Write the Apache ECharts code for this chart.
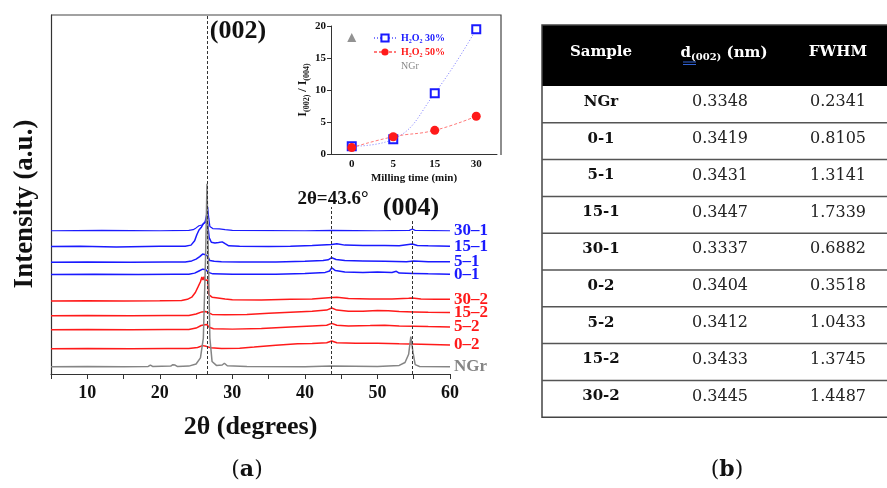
<!DOCTYPE html>
<html>
<head>
<meta charset="utf-8">
<script src="https://cdn.jsdelivr.net/npm/echarts/dist/echarts.min.js"></script>
<style>
html, body { margin: 0; padding: 0; background: #fff; }
#chart { width: 887px; height: 488px; }
</style>
</head>
<body>
<div id="chart"></div>
<script>
// XRD patterns: [2theta, intensity above the trace's own baseline]
var trace30_1 = [[5,0],[12,0.1],[20,0],[24,0.1],[24.6,0.3],[25,0.8],[25.4,1.4],[25.8,1.6],[26.2,2.2],[26.45,4.5],[26.6,6.6],[26.75,3.5],[26.9,1.2],[27.3,0.6],[28.2,0.5],[29,0.3],[30,0.1],[40,0],[43.7,0.1],[50,0],[54.4,0.1],[54.8,0.5],[55.2,0.1],[60,0]];
var trace15_1 = [[5,0],[9,0.1],[14,-0.1],[20,0.1],[23.5,0.1],[24.3,0.4],[24.8,1.6],[25.1,3.3],[25.4,4.6],[25.7,5.3],[26.0,6.4],[26.3,6.9],[26.6,6.3],[26.8,2.5],[27.1,1.2],[27.6,1.0],[28.1,1.1],[28.6,1.3],[29.0,0.8],[29.5,0.2],[31,0.1],[35,0],[38,0.1],[41,0.3],[43.7,0.6],[44.4,0.8],[45.5,0.4],[48,0.3],[51,0.3],[53,0.2],[54.8,0.7],[55.5,0.3],[57,0.2],[60,0.1]];
var trace5_1 = [[5,0],[10,0.1],[16,0],[21,0.1],[23.5,0.1],[24.4,0.4],[25.0,0.9],[25.5,1.6],[25.9,2.3],[26.3,2.1],[26.6,1.7],[26.9,0.5],[27.5,0.3],[28.5,0.2],[31,0.1],[36,0.1],[40,0.3],[42.5,0.5],[43.2,0.7],[43.7,1.3],[44.3,0.8],[45.5,0.5],[48,0.4],[51,0.3],[54,0.2],[55,0.4],[57,0.2],[60,0.2]];
var trace0_1 = [[5,0],[11,0.1],[17,0],[22,0.1],[24,0.1],[24.8,0.4],[25.4,1.0],[25.9,1.5],[26.3,1.4],[26.7,0.6],[27.3,0.2],[30,0.1],[36,0.1],[40,0.3],[42.8,0.6],[43.4,1.0],[43.7,1.9],[44.2,1.1],[45.5,0.7],[48,0.6],[50,0.7],[52,0.6],[52.6,0.9],[53,0.4],[55,0.3],[57,0.2],[60,0.1]];
var trace30_2 = [[5,0],[10,0.1],[15,0],[20,0.1],[23,0.2],[23.8,0.5],[24.4,1.1],[24.9,2.4],[25.3,4.1],[25.6,5.4],[25.8,6.7],[25.95,5.9],[26.1,6.8],[26.25,5.8],[26.45,6.2],[26.6,5.9],[26.75,1.8],[27.2,1.1],[28,0.9],[29,0.6],[30,0.4],[34,0.3],[38,0.5],[41,0.6],[43.7,1.0],[44.4,1.1],[46,0.7],[49,0.6],[52,0.6],[54.3,0.8],[54.8,0.9],[56,0.6],[58,0.5],[60,0.5]];
var trace15_2 = [[5,0],[10,0.1],[16,0],[21,0.1],[24,0.1],[25,0.5],[25.8,1.1],[26.3,1.2],[26.7,0.9],[27.2,0.4],[29,0.3],[32,0.4],[35,0.7],[38,1.0],[41,1.3],[43,1.6],[43.7,2.2],[44.4,1.6],[46,1.3],[48,1.3],[50,1.5],[51.5,1.4],[53,1.2],[55,1.1],[57,1.0],[60,0.9]];
var trace5_2 = [[5,0],[10,0.1],[16,0],[21,0.1],[24,0.1],[25,0.5],[25.7,1.2],[26.2,1.4],[26.5,1.5],[26.65,2.0],[26.8,0.7],[27.4,0.3],[30,0.2],[34,0.4],[38,0.8],[41,1.1],[43,1.3],[43.7,1.8],[44.4,1.3],[46,1.1],[49,1.2],[51,1.3],[53,1.1],[55,1.0],[57,0.9],[60,0.8]];
var trace0_2 = [[5,0],[10,0.1],[16,0],[21,0.1],[24,0.1],[25.2,0.4],[25.9,0.9],[26.4,0.7],[27,0.3],[28.5,0.1],[31,0.2],[33,0.5],[36,1.0],[39,1.4],[41,1.5],[43,1.7],[43.7,2.2],[44.4,1.7],[47,1.6],[50,1.6],[53,1.4],[56,1.3],[60,1.1]];
var traceNGr = [[5,0],[10,0.1],[15,0],[18.4,0.1],[18.7,0.5],[19.0,0.1],[21.5,0.2],[21.8,0.6],[22.1,0.5],[22.4,0.1],[24,0.2],[25,0.8],[25.6,2.5],[26.0,8],[26.3,30],[26.5,51],[26.7,30],[26.9,8],[27.2,1.5],[27.8,0.4],[28.6,0.5],[28.9,1.0],[29.3,0.3],[32,0.1],[40,0],[43.6,0.2],[50,0.1],[53,0.4],[53.8,1.2],[54.3,3.5],[54.6,8.4],[54.9,4],[55.2,0.6],[55.8,0.1],[60,0]];

var traceNames = ['30–1', '15–1', '5–1', '0–1', '30–2', '15–2', '5–2', '0–2', 'NGr'];
var traceOffsets = [39.9, 35.5, 31.1, 27.7, 20.3, 16.2, 12.3, 7.0, 2.0];
var traces = [trace30_1, trace15_1, trace5_1, trace0_1, trace30_2, trace15_2, trace5_2, trace0_2, traceNGr];

// reference lines [2theta, top]
var refLines = [[26.6, 100], [43.6, 46.5], [54.8, 42.9]];

// inset: I(002)/I(004) vs milling time
var millingTime = ['0', '5', '15', '30'];
var ratio30 = [1.2, 2.3, 9.5, 19.5];
var ratio50 = [1.0, 2.7, 3.7, 5.9];
var ratioNGr = 18.2;

// table (b)
var sampleNames = ['NGr', '0-1', '5-1', '15-1', '30-1', '0-2', '5-2', '15-2', '30-2'];
var d002 = ['0.3348', '0.3419', '0.3431', '0.3447', '0.3337', '0.3404', '0.3412', '0.3433', '0.3445'];
var fwhm = ['0.2341', '0.8105', '1.3141', '1.7339', '0.6882', '0.3518', '1.0433', '1.3745', '1.4487'];

var BLUE = '#1a1aff', RED = '#ff1a1a', GRAY = '#858585';
var SERIF = '"Liberation Serif", "Times New Roman", serif';
var WIDE = '"DejaVu Serif", serif';
var traceColors = [BLUE, BLUE, BLUE, BLUE, RED, RED, RED, RED, GRAY];

var dom = document.getElementById('chart');
var myChart = echarts.init(dom);

var series = traces.map(function (t, i) {
    var s = {
        name: traceNames[i],
        type: 'line',
        xAxisIndex: 0,
        yAxisIndex: 0,
        symbol: 'none',
        silent: true,
        animation: false,
        z: i === 8 ? 3 : 2,
        data: t.map(function (p) { return [p[0], p[1] + traceOffsets[i]]; }),
        lineStyle: { color: traceColors[i], width: i === 0 ? 1.2 : 1.5 },
        itemStyle: { color: traceColors[i] },
        endLabel: {
            show: true,
            formatter: traceNames[i],
            color: traceColors[i],
            fontFamily: SERIF,
            fontWeight: 'bold',
            fontSize: 17,
            distance: 4
        }
    };
    if (i === 8) {
        s.markLine = {
            silent: true,
            symbol: 'none',
            animation: false,
            label: { show: false },
            lineStyle: { type: [3, 2], color: '#333', width: 1 },
            data: refLines.map(function (r) {
                return [{ coord: [r[0], 0] }, { coord: [r[0], r[1]] }];
            })
        };
    }
    return s;
});

series.push({
    name: 'H₂O₂ 30%',
    type: 'line',
    xAxisIndex: 1,
    yAxisIndex: 1,
    smooth: 0.45,
    symbol: 'emptyRect',
    symbolSize: 8,
    animation: false,
    data: ratio30,
    lineStyle: { color: '#7a7aff', width: 1, type: [1, 2] },
    itemStyle: { color: BLUE, borderWidth: 1.5 }
});
series.push({
    name: 'H₂O₂ 50%',
    type: 'line',
    xAxisIndex: 1,
    yAxisIndex: 1,
    smooth: 0.45,
    symbol: 'circle',
    symbolSize: 9,
    animation: false,
    data: ratio50,
    lineStyle: { color: '#ff7a7a', width: 1, type: [3, 2] },
    itemStyle: { color: RED }
});
series.push({
    name: 'NGr',
    type: 'scatter',
    xAxisIndex: 1,
    yAxisIndex: 1,
    symbol: 'triangle',
    symbolSize: 9,
    animation: false,
    data: [[0, ratioNGr]],
    itemStyle: { color: '#777' }
});

// table graphic
var tLeft = 542, tRight = 887, tTop = 25, headBottom = 86, rowH = 36.8;
var colX = [601, 720, 838];
var table = [];
table.push({ type: 'rect', shape: { x: tLeft, y: tTop, width: tRight - tLeft, height: headBottom - tTop }, style: { fill: '#000' } });
table.push({ type: 'rect', shape: { x: tLeft, y: tTop, width: tRight - tLeft + 5, height: headBottom - tTop + rowH * sampleNames.length }, style: { fill: null, stroke: '#444', lineWidth: 1.5 } });
for (var k = 1; k < sampleNames.length; k++) {
    var ly = headBottom + rowH * k;
    table.push({ type: 'line', shape: { x1: tLeft, y1: ly, x2: tRight, y2: ly }, style: { stroke: '#555', lineWidth: 1.5 } });
}
var headStyle = { fill: '#fff', font: 'bold 15px ' + WIDE, align: 'center', verticalAlign: 'middle' };
table.push({ type: 'text', x: colX[0], y: 52, style: Object.assign({ text: 'Sample' }, headStyle) });
table.push({
    type: 'text', x: colX[1] + 4, y: 52,
    style: {
        text: '{b|d}{s|(002)}{b| (nm)}',
        align: 'center', verticalAlign: 'middle',
        rich: {
            b: { fill: '#fff', color: '#fff', fontSize: 15, fontWeight: 'bold', fontFamily: WIDE, lineHeight: 18, verticalAlign: 'bottom' },
            s: { fill: '#fff', color: '#fff', fontSize: 10, fontWeight: 'bold', fontFamily: WIDE, lineHeight: 18, verticalAlign: 'bottom', padding: [0, 0, -1, 0] }
        }
    }
});
table.push({ type: 'line', shape: { x1: 683, y1: 62, x2: 696, y2: 62 }, style: { stroke: '#3060d0', lineWidth: 1 } });
table.push({ type: 'line', shape: { x1: 683, y1: 64.5, x2: 696, y2: 64.5 }, style: { stroke: '#3060d0', lineWidth: 1 } });
table.push({ type: 'text', x: colX[2], y: 52, style: Object.assign({ text: 'FWHM' }, headStyle) });
sampleNames.forEach(function (nm, i) {
    var ty = headBottom + rowH * i + 16;
    table.push({ type: 'text', x: colX[0], y: ty, style: { text: nm, fill: '#111', font: 'bold 15px ' + WIDE, align: 'center', verticalAlign: 'middle' } });
    table.push({ type: 'text', x: colX[1], y: ty, style: { text: d002[i], fill: '#222', font: '16px ' + WIDE, align: 'center', verticalAlign: 'middle' } });
    table.push({ type: 'text', x: colX[2], y: ty, style: { text: fwhm[i], fill: '#222', font: '16px ' + WIDE, align: 'center', verticalAlign: 'middle' } });
});

option = {
    backgroundColor: '#fff',
    animation: false,
    grid: [
        { left: 51, right: 437, top: 15, bottom: 114 },
        { left: 331, top: 26, width: 166, height: 128 }
    ],
    legend: {
        left: 368,
        top: 28,
        orient: 'vertical',
        itemWidth: 22,
        itemHeight: 9,
        itemGap: 4,
        selectedMode: false,
        textStyle: { fontFamily: SERIF, fontWeight: 'bold', fontSize: 10 },
        data: [
            { name: 'H₂O₂ 30%', textStyle: { color: BLUE } },
            { name: 'H₂O₂ 50%', textStyle: { color: RED } },
            { name: 'NGr', icon: 'none', textStyle: { color: '#888', fontWeight: 'normal' } }
        ]
    },
    xAxis: [
        {
            gridIndex: 0,
            type: 'value',
            min: 5,
            max: 60,
            interval: 5,
            axisLine: { lineStyle: { color: '#333', width: 1.2 } },
            axisTick: { length: 5, lineStyle: { color: '#333' } },
            splitLine: { show: false },
            axisLabel: {
                color: '#111', fontFamily: SERIF, fontWeight: 'bold', fontSize: 18, margin: 10,
                formatter: function (v) { return v % 10 === 0 ? v : ''; }
            },
            name: '2θ (degrees)',
            nameLocation: 'middle',
            nameGap: 40,
            nameTextStyle: { color: '#111', fontFamily: SERIF, fontWeight: 'bold', fontSize: 26 }
        },
        {
            gridIndex: 1,
            type: 'category',
            data: millingTime,
            boundaryGap: true,
            axisLine: { lineStyle: { color: '#333' } },
            axisTick: { alignWithLabel: true, length: 3, lineStyle: { color: '#333' } },
            axisLabel: { color: '#111', fontFamily: SERIF, fontWeight: 'bold', fontSize: 11, margin: 5 },
            name: 'Milling time (min)',
            nameLocation: 'middle',
            nameGap: 19,
            nameTextStyle: { color: '#111', fontFamily: SERIF, fontWeight: 'bold', fontSize: 11 }
        }
    ],
    yAxis: [
        {
            gridIndex: 0,
            type: 'value',
            min: 0,
            max: 100,
            axisLine: { show: true, lineStyle: { color: '#333', width: 1.2 } },
            axisTick: { show: false },
            axisLabel: { show: false },
            splitLine: { show: false }
        },
        {
            gridIndex: 1,
            type: 'value',
            min: 0,
            max: 20,
            interval: 5,
            axisLine: { show: true, lineStyle: { color: '#333' } },
            axisTick: { show: true, length: 4, lineStyle: { color: '#333' } },
            axisLabel: { color: '#111', fontFamily: SERIF, fontWeight: 'bold', fontSize: 11, margin: 5 },
            splitLine: { show: false },
            name: '{b|I}{s|(002)}{b| / I}{s|(004)}',
            nameLocation: 'middle',
            nameGap: 18,
            nameTextStyle: {
                rich: {
                    b: { color: '#111', fontFamily: SERIF, fontWeight: 'bold', fontSize: 12, lineHeight: 14, verticalAlign: 'bottom' },
                    s: { color: '#111', fontFamily: SERIF, fontWeight: 'bold', fontSize: 8, lineHeight: 14, verticalAlign: 'bottom', padding: [0, 0, -2, 0] }
                }
            }
        }
    ],
    graphic: [
        { type: 'polyline', shape: { points: [[51, 15], [501, 15], [501, 155]] }, style: { fill: null, stroke: '#444', lineWidth: 1.2 } },
        { type: 'text', x: 25, y: 204, rotation: Math.PI / 2, style: { text: 'Intensity (a.u.)', fill: '#111', font: 'bold 27px ' + SERIF, align: 'center', verticalAlign: 'middle' } },
        { type: 'text', x: 238, y: 31, style: { text: '(002)', fill: '#111', font: 'bold 26px ' + SERIF, align: 'center', verticalAlign: 'middle' } },
        { type: 'text', x: 333, y: 199, style: { text: '2θ=43.6°', fill: '#111', font: 'bold 19px ' + SERIF, align: 'center', verticalAlign: 'middle' } },
        { type: 'text', x: 411, y: 208, style: { text: '(004)', fill: '#111', font: 'bold 26px ' + SERIF, align: 'center', verticalAlign: 'middle' } },
        {
            type: 'text', x: 247, y: 470,
            style: {
                text: '({a|a})', align: 'center', verticalAlign: 'middle', fill: '#111', font: '22px ' + WIDE,
                rich: { a: { fill: '#111', color: '#111', fontSize: 22, fontWeight: 'bold', fontFamily: WIDE } }
            }
        },
        {
            type: 'text', x: 727, y: 470,
            style: {
                text: '({a|b})', align: 'center', verticalAlign: 'middle', fill: '#111', font: '22px ' + WIDE,
                rich: { a: { fill: '#111', color: '#111', fontSize: 22, fontWeight: 'bold', fontFamily: WIDE } }
            }
        },
        { type: 'group', children: table }
    ],
    series: series
};

if (option && typeof option === 'object') {
    myChart.setOption(option, true);
}
</script>
</body>
</html>
